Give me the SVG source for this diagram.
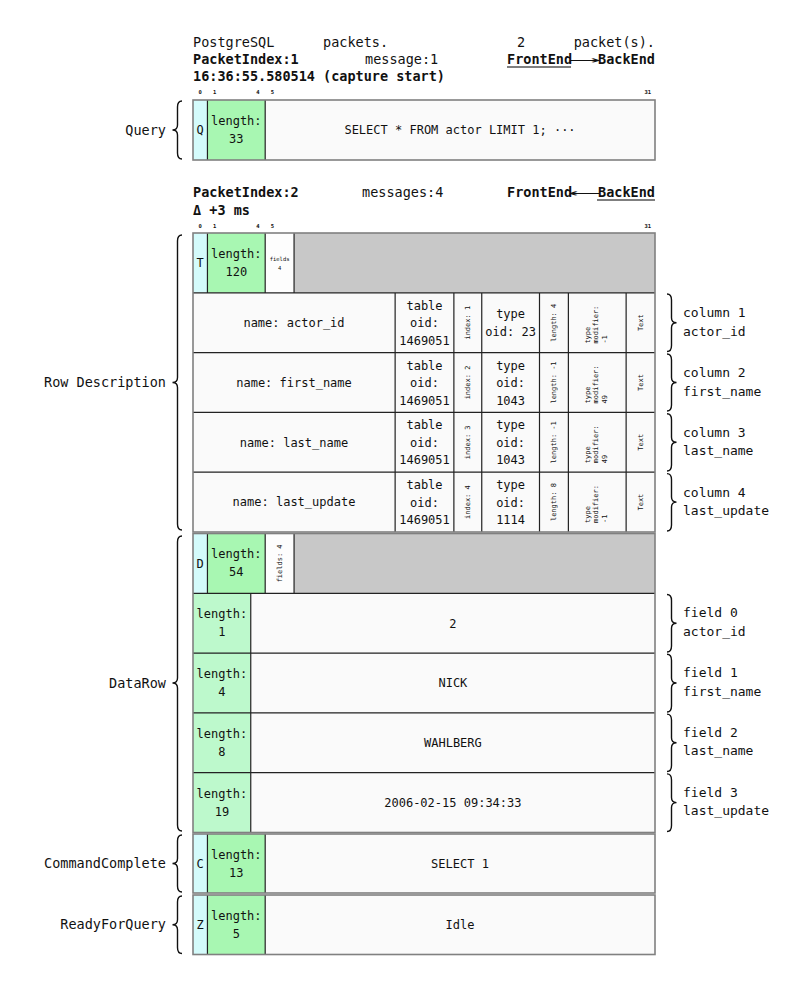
<svg xmlns="http://www.w3.org/2000/svg" width="800" height="1003" viewBox="0 0 800 1003">
<style>
text{font-family:"DejaVu Sans Mono","Liberation Mono",monospace;fill:#111}
.h{font-size:13.5px}
.b{font-weight:bold}
.c{font-size:12px;text-anchor:middle}
.lbl{font-size:13.5px;text-anchor:end}
.rl{font-size:13px}
.tiny{font-size:5.5px;font-weight:bold;text-anchor:middle}
.v{font-size:7px}
.vm{font-size:7px;text-anchor:middle}
.ty{fill:#d4fbfb}
.ln{fill:#a8f7b2}
.ln2{fill:#bdf9cc}
.val{fill:#fafafa}
.gr{fill:#c8c8c8}
.wh{fill:#fdfdfd}
.out{fill:none;stroke:#808080;stroke-width:1.6}
.div{stroke:#222;stroke-width:1.2;fill:none}
.brace{fill:none;stroke:#111;stroke-width:1.4}
.ul{stroke:#555;stroke-width:1.4}
</style>

<g id="header1">
<text class="h" x="193" y="47">PostgreSQL</text>
<text class="h" x="323" y="47">packets.</text>
<text class="h" x="517" y="47">2</text>
<text class="h" x="655" y="47" text-anchor="end">packet(s).</text>
<text class="h b" x="193" y="64">PacketIndex:1</text>
<text class="h" x="365" y="64">message:1</text>
<text class="h b" x="507" y="64">FrontEnd</text>
<line class="ul" x1="507" y1="67" x2="571" y2="67"/>
<text class="h" x="571" y="64" textLength="26" lengthAdjust="spacingAndGlyphs">⟶</text>
<text class="h b" x="655" y="64" text-anchor="end">BackEnd</text>
<text class="h b" x="193" y="81">16:36:55.580514 (capture start)</text>
<text class="tiny" x="200.2" y="94">0</text>
<text class="tiny" x="214.7" y="94">1</text>
<text class="tiny" x="258" y="94">4</text>
<text class="tiny" x="272.4" y="94">5</text>
<text class="tiny" x="647.8" y="94">31</text>
</g>

<g id="query">
<rect class="ty" x="193" y="100" width="14.44" height="60"/>
<rect class="ln" x="207.44" y="100" width="57.75" height="60"/>
<rect class="val" x="265.19" y="100" width="389.81" height="60"/>
<path class="div" d="M207.44 100V160M265.19 100V160"/>
<rect class="out" x="193" y="100" width="462" height="60"/>
<text class="c" x="200.2" y="134.3">Q</text>
<text class="c" x="236.3" y="125">length:</text>
<text class="c" x="236.3" y="143">33</text>
<text class="c" x="460" y="134.3">SELECT * FROM actor LIMIT 1; ···</text>
</g>

<g id="header2">
<text class="h b" x="193" y="197">PacketIndex:2</text>
<text class="h" x="362" y="197">messages:4</text>
<text class="h b" x="507" y="197">FrontEnd</text>
<text class="h" x="571" y="197" textLength="26" lengthAdjust="spacingAndGlyphs">⟵</text>
<text class="h b" x="655" y="197" text-anchor="end">BackEnd</text>
<line class="ul" x1="597" y1="200" x2="655" y2="200"/>
<text class="h b" x="193" y="215">Δ +3 ms</text>
<text class="tiny" x="200.2" y="228">0</text>
<text class="tiny" x="214.7" y="228">1</text>
<text class="tiny" x="258" y="228">4</text>
<text class="tiny" x="272.4" y="228">5</text>
<text class="tiny" x="647.8" y="228">31</text>
</g>

<g id="rowdescription">
<rect class="ty" x="193" y="233" width="14.44" height="59.8"/>
<rect class="ln" x="207.44" y="233" width="57.75" height="59.8"/>
<rect class="wh" x="265.19" y="233" width="28.87" height="59.8"/>
<rect class="gr" x="294.06" y="233" width="360.94" height="59.8"/>
<rect class="val" x="193" y="292.8" width="462" height="239.2"/>
<path class="div" d="M207.44 233V292.8M265.19 233V292.8M294.06 233V292.8M193 292.8H655M193 352.6H655M193 412.4H655M193 472.2H655M395.13 292.8V532M453.88 292.8V532M481.75 292.8V532M539.5 292.8V532M568.38 292.8V532M626.13 292.8V532"/>
<rect class="out" x="193" y="233" width="462" height="299"/>
<text class="c" x="200.2" y="267.2">T</text>
<text class="c" x="236.3" y="258">length:</text>
<text class="c" x="236.3" y="276">120</text>
<text class="tiny" x="279.6" y="261" style="font-weight:normal">fields</text>
<text class="tiny" x="279.6" y="270" style="font-weight:normal">4</text>

<g id="column1">
<text class="c" x="294" y="327">name: actor_id</text>
<text class="c" x="424.5" y="309.7">table</text>
<text class="c" x="424.5" y="327.2">oid:</text>
<text class="c" x="424.5" y="344.7">1469051</text>
<text class="vm" transform="translate(470.3 322.7) rotate(-90)">index: 1</text>
<text class="c" x="510.6" y="317.7">type</text>
<text class="c" x="510.6" y="335.7">oid: 23</text>
<text class="vm" transform="translate(556.4 322.7) rotate(-90)">length: 4</text>
<text class="v" transform="translate(589.5 343.6) rotate(-90)">type</text>
<text class="v" transform="translate(598 343.6) rotate(-90)">modifier:</text>
<text class="v" transform="translate(606.5 343.6) rotate(-90)">-1</text>
<text class="vm" transform="translate(643.1 322.7) rotate(-90)">Text</text>
</g>
<g id="column2">
<text class="c" x="294" y="386.8">name: first_name</text>
<text class="c" x="424.5" y="369.5">table</text>
<text class="c" x="424.5" y="387">oid:</text>
<text class="c" x="424.5" y="404.5">1469051</text>
<text class="vm" transform="translate(470.3 382.5) rotate(-90)">index: 2</text>
<text class="c" x="510.6" y="369.5">type</text>
<text class="c" x="510.6" y="387">oid:</text>
<text class="c" x="510.6" y="404.5">1043</text>
<text class="vm" transform="translate(556.4 382.5) rotate(-90)">length: -1</text>
<text class="v" transform="translate(589.5 403.4) rotate(-90)">type</text>
<text class="v" transform="translate(598 403.4) rotate(-90)">modifier:</text>
<text class="v" transform="translate(606.5 403.4) rotate(-90)">49</text>
<text class="vm" transform="translate(643.1 382.5) rotate(-90)">Text</text>
</g>
<g id="column3">
<text class="c" x="294" y="446.6">name: last_name</text>
<text class="c" x="424.5" y="429.3">table</text>
<text class="c" x="424.5" y="446.8">oid:</text>
<text class="c" x="424.5" y="464.3">1469051</text>
<text class="vm" transform="translate(470.3 442.3) rotate(-90)">index: 3</text>
<text class="c" x="510.6" y="429.3">type</text>
<text class="c" x="510.6" y="446.8">oid:</text>
<text class="c" x="510.6" y="464.3">1043</text>
<text class="vm" transform="translate(556.4 442.3) rotate(-90)">length: -1</text>
<text class="v" transform="translate(589.5 463.2) rotate(-90)">type</text>
<text class="v" transform="translate(598 463.2) rotate(-90)">modifier:</text>
<text class="v" transform="translate(606.5 463.2) rotate(-90)">49</text>
<text class="vm" transform="translate(643.1 442.3) rotate(-90)">Text</text>
</g>
<g id="column4">
<text class="c" x="294" y="506.4">name: last_update</text>
<text class="c" x="424.5" y="489.1">table</text>
<text class="c" x="424.5" y="506.6">oid:</text>
<text class="c" x="424.5" y="524.1">1469051</text>
<text class="vm" transform="translate(470.3 502.1) rotate(-90)">index: 4</text>
<text class="c" x="510.6" y="489.1">type</text>
<text class="c" x="510.6" y="506.6">oid:</text>
<text class="c" x="510.6" y="524.1">1114</text>
<text class="vm" transform="translate(556.4 502.1) rotate(-90)">length: 8</text>
<text class="v" transform="translate(589.5 523) rotate(-90)">type</text>
<text class="v" transform="translate(598 523) rotate(-90)">modifier:</text>
<text class="v" transform="translate(606.5 523) rotate(-90)">-1</text>
<text class="vm" transform="translate(643.1 502.1) rotate(-90)">Text</text>
</g>
</g>

<g id="datarow">
<rect class="ty" x="193" y="533.5" width="14.44" height="59.8"/>
<rect class="ln" x="207.44" y="533.5" width="57.75" height="59.8"/>
<rect class="wh" x="265.19" y="533.5" width="28.87" height="59.8"/>
<rect class="gr" x="294.06" y="533.5" width="360.94" height="59.8"/>
<rect class="ln2" x="193" y="593.3" width="57.75" height="239.2"/>
<rect class="val" x="250.75" y="593.3" width="404.25" height="239.2"/>
<path class="div" d="M207.44 533.5V593.3M265.19 533.5V593.3M294.06 533.5V593.3M193 593.3H655M193 653.1H655M193 712.9H655M193 772.7H655M250.75 593.3V832.5"/>
<rect class="out" x="193" y="533.5" width="462" height="299"/>
<text class="c" x="200.2" y="567.7">D</text>
<text class="c" x="236.3" y="558.4">length:</text>
<text class="c" x="236.3" y="576.4">54</text>
<text class="vm" transform="translate(282 563.4) rotate(-90)">fields: 4</text>
<g id="field0">
<text class="c" x="221.9" y="618.2">length:</text>
<text class="c" x="221.9" y="636.2">1</text>
<text class="c" x="452.9" y="627.5">2</text>
</g>
<g id="field1">
<text class="c" x="221.9" y="678">length:</text>
<text class="c" x="221.9" y="696">4</text>
<text class="c" x="452.9" y="687.3">NICK</text>
</g>
<g id="field2">
<text class="c" x="221.9" y="737.8">length:</text>
<text class="c" x="221.9" y="755.8">8</text>
<text class="c" x="452.9" y="747.1">WAHLBERG</text>
</g>
<g id="field3">
<text class="c" x="221.9" y="797.6">length:</text>
<text class="c" x="221.9" y="815.6">19</text>
<text class="c" x="452.9" y="806.9">2006-02-15 09:34:33</text>
</g>
</g>

<g id="commandcomplete">
<rect class="ty" x="193" y="834" width="14.44" height="59"/>
<rect class="ln" x="207.44" y="834" width="57.75" height="59"/>
<rect class="val" x="265.19" y="834" width="389.81" height="59"/>
<path class="div" d="M207.44 834V893M265.19 834V893"/>
<rect class="out" x="193" y="834" width="462" height="59"/>
<text class="c" x="200.2" y="867.8">C</text>
<text class="c" x="236.3" y="858.5">length:</text>
<text class="c" x="236.3" y="876.5">13</text>
<text class="c" x="460" y="867.8">SELECT 1</text>
</g>

<g id="readyforquery">
<rect class="ty" x="193" y="895" width="14.44" height="59.5"/>
<rect class="ln" x="207.44" y="895" width="57.75" height="59.5"/>
<rect class="val" x="265.19" y="895" width="389.81" height="59.5"/>
<path class="div" d="M207.44 895V954.5M265.19 895V954.5"/>
<rect class="out" x="193" y="895" width="462" height="59.5"/>
<text class="c" x="200.2" y="929">Z</text>
<text class="c" x="236.3" y="919.7">length:</text>
<text class="c" x="236.3" y="937.7">5</text>
<text class="c" x="460" y="929">Idle</text>
</g>

<g id="labels">
<text class="lbl" x="166" y="134.5">Query</text>
<text class="lbl" x="166" y="386.5">Row Description</text>
<text class="lbl" x="166" y="688">DataRow</text>
<text class="lbl" x="166" y="868">CommandComplete</text>
<text class="lbl" x="166" y="929">ReadyForQuery</text>
<text class="rl" x="683" y="317">column 1</text>
<text class="rl" x="683" y="335.5">actor_id</text>
<text class="rl" x="683" y="377">column 2</text>
<text class="rl" x="683" y="395.5">first_name</text>
<text class="rl" x="683" y="436.5">column 3</text>
<text class="rl" x="683" y="455">last_name</text>
<text class="rl" x="683" y="496.5">column 4</text>
<text class="rl" x="683" y="515">last_update</text>
<text class="rl" x="683" y="617">field 0</text>
<text class="rl" x="683" y="635.5">actor_id</text>
<text class="rl" x="683" y="677">field 1</text>
<text class="rl" x="683" y="695.5">first_name</text>
<text class="rl" x="683" y="736.5">field 2</text>
<text class="rl" x="683" y="755">last_name</text>
<text class="rl" x="683" y="796.5">field 3</text>
<text class="rl" x="683" y="815">last_update</text>
</g>

<g id="connectors">
<path class="brace" d="M182 101Q177.5 101 177.5 107L177.5 125Q177.5 130 172.5 130Q177.5 130 177.5 135L177.5 153Q177.5 159 182 159"/>
<path class="brace" d="M182 235Q177.5 235 177.5 241L177.5 377.5Q177.5 382.5 172.5 382.5Q177.5 382.5 177.5 387.5L177.5 524Q177.5 530 182 530"/>
<path class="brace" d="M182 536Q177.5 536 177.5 542L177.5 678Q177.5 683 172.5 683Q177.5 683 177.5 688L177.5 825Q177.5 831 182 831"/>
<path class="brace" d="M182 835Q177.5 835 177.5 841L177.5 858.5Q177.5 863.5 172.5 863.5Q177.5 863.5 177.5 868.5L177.5 886Q177.5 892 182 892"/>
<path class="brace" d="M182 896Q177.5 896 177.5 902L177.5 919.7Q177.5 924.7 172.5 924.7Q177.5 924.7 177.5 929.7L177.5 947.5Q177.5 953.5 182 953.5"/>
<path class="brace" d="M667 294Q671.5 294 671.5 300L671.5 317.7Q671.5 322.7 676.5 322.7Q671.5 322.7 671.5 327.7L671.5 345.5Q671.5 351.5 667 351.5"/>
<path class="brace" d="M667 354Q671.5 354 671.5 360L671.5 377.5Q671.5 382.5 676.5 382.5Q671.5 382.5 671.5 387.5L671.5 405Q671.5 411 667 411"/>
<path class="brace" d="M667 413.8Q671.5 413.8 671.5 419.8L671.5 437.3Q671.5 442.3 676.5 442.3Q671.5 442.3 671.5 447.3L671.5 465Q671.5 471 667 471"/>
<path class="brace" d="M667 473.6Q671.5 473.6 671.5 479.6L671.5 497.1Q671.5 502.1 676.5 502.1Q671.5 502.1 671.5 507.1L671.5 525Q671.5 531 667 531"/>
<path class="brace" d="M667 594.5Q671.5 594.5 671.5 600.5L671.5 618.2Q671.5 623.2 676.5 623.2Q671.5 623.2 671.5 628.2L671.5 646Q671.5 652 667 652"/>
<path class="brace" d="M667 654.3Q671.5 654.3 671.5 660.3L671.5 678Q671.5 683 676.5 683Q671.5 683 671.5 688L671.5 706Q671.5 712 667 712"/>
<path class="brace" d="M667 714.1Q671.5 714.1 671.5 720.1L671.5 737.8Q671.5 742.8 676.5 742.8Q671.5 742.8 671.5 747.8L671.5 765.5Q671.5 771.5 667 771.5"/>
<path class="brace" d="M667 773.9Q671.5 773.9 671.5 779.9L671.5 797.6Q671.5 802.6 676.5 802.6Q671.5 802.6 671.5 807.6L671.5 825.5Q671.5 831.5 667 831.5"/>
</g>
</svg>
